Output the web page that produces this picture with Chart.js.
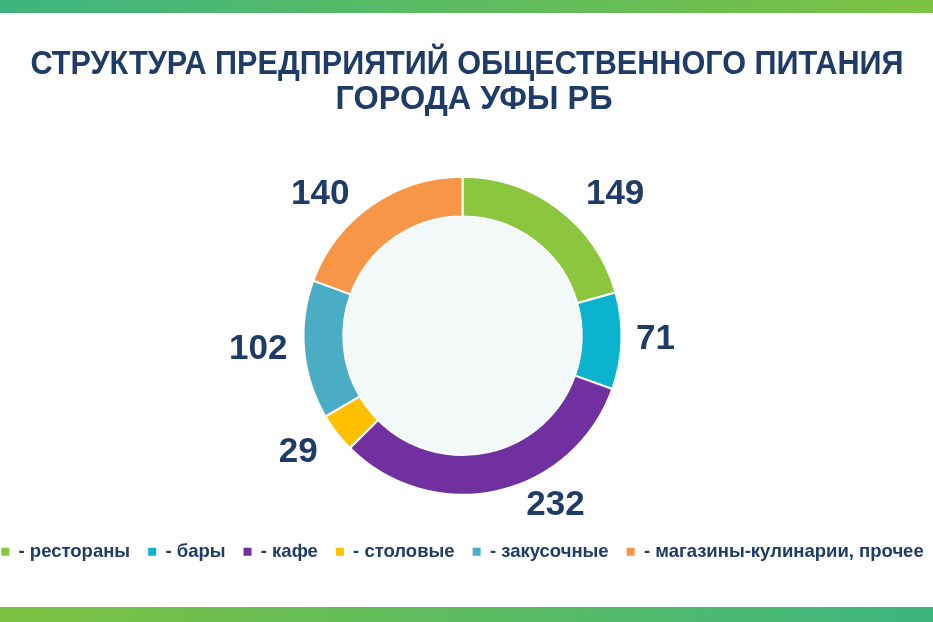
<!DOCTYPE html>
<html>
<head>
<meta charset="utf-8">
<script src="https://cdn.jsdelivr.net/npm/chart.js@4.4.1/dist/chart.umd.min.js"></script>
<style>
  html, body { margin: 0; padding: 0; background: #fff; }
  #wrap { position: relative; width: 933px; height: 622px; overflow: hidden; }
  .bar { position: absolute; left: 0; width: 933px; }
  #topBar { top: 0; height: 13px; background: linear-gradient(to right, #3db57f, #7dc242); }
  #bottomBar { top: 607px; height: 15px; background: linear-gradient(to right, #7dc242, #3db57f); }
  /* canvas nudged left so the ring sits where it does on the slide */
  canvas { position: absolute; left: -4px; top: 0; }
</style>
</head>
<body>
<div id="wrap">
  <div id="topBar" class="bar"></div>
  <div id="bottomBar" class="bar"></div>
  <canvas id="chart" width="933" height="622"></canvas>
</div>
<script>
// data
const categories = ['рестораны', 'бары', 'кафе', 'столовые', 'закусочные', 'магазины-кулинарии, прочее'];
const counts = [149, 71, 232, 29, 102, 140];
const sliceColors = ['#8cc63f', '#0bb3ce', '#7030a0', '#ffc000', '#4bacc6', '#f79646'];
const titleLines = ['СТРУКТУРА ПРЕДПРИЯТИЙ ОБЩЕСТВЕННОГО ПИТАНИЯ', 'ГОРОДА УФЫ РБ'];

const textColor = '#1f3b68';

// title in a narrow bold face: no narrow font installed, so squeeze Liberation Sans
const narrowTitle = {
  id: 'narrowTitle',
  afterDraw(chart, args, opts) {
    const ctx = chart.ctx;
    ctx.save();
    ctx.font = opts.font;
    ctx.fillStyle = opts.color;
    ctx.textAlign = 'center';
    ctx.textBaseline = 'alphabetic';
    opts.lines.forEach((line, i) => {
      const sx = opts.widths[i] / ctx.measureText(line).width;
      ctx.save();
      ctx.translate(opts.centers[i], opts.baselines[i]);
      ctx.scale(sx, 1);
      ctx.fillText(line, 0, 0);
      ctx.restore();
    });
    ctx.restore();
  }
};

// value labels outside the ring, nudged like the original slide
const valueLabels = {
  id: 'valueLabels',
  afterDatasetsDraw(chart, args, opts) {
    const ctx = chart.ctx;
    const meta = chart.getDatasetMeta(0);
    ctx.save();
    ctx.font = opts.font;
    ctx.fillStyle = opts.color;
    ctx.textAlign = 'center';
    ctx.textBaseline = 'middle';
    meta.data.forEach((arc, i) => {
      const p = arc.getProps(['x', 'y', 'startAngle', 'endAngle', 'outerRadius'], true);
      const mid = (p.startAngle + p.endAngle) / 2;
      const r = p.outerRadius + opts.distance;
      const nudge = opts.nudge[i] || [0, 0];
      const x = p.x + Math.cos(mid) * r + nudge[0];
      const y = p.y + Math.sin(mid) * r + nudge[1];
      ctx.fillText(String(chart.data.datasets[0].data[i]), x, y);
    });
    ctx.restore();
  }
};

// faint tint inside the hole (watermark background)
const holeTint = {
  id: 'holeTint',
  beforeDatasetsDraw(chart) {
    const arc = chart.getDatasetMeta(0).data[0];
    if (!arc) return;
    const p = arc.getProps(['x', 'y', 'innerRadius'], true);
    const ctx = chart.ctx;
    ctx.save();
    ctx.fillStyle = '#f3f9f8';
    ctx.beginPath();
    ctx.arc(p.x, p.y, p.innerRadius, 0, Math.PI * 2);
    ctx.fill();
    ctx.restore();
  }
};

new Chart(document.getElementById('chart'), {
  type: 'doughnut',
  data: {
    labels: categories,
    datasets: [{
      data: counts,
      backgroundColor: sliceColors,
      borderColor: '#ffffff',
      borderWidth: 2,
      hoverOffset: 0,
      radius: 159,
      cutout: '75%'
    }]
  },
  options: {
    responsive: false,
    animation: false,
    // negative side padding lets the one-row legend spread as wide as the slide's
    layout: { padding: { left: -13, right: -13, top: 147, bottom: 51 } },
    plugins: {
      tooltip: { enabled: false },
      title: { display: false },
      narrowTitle: {
        lines: titleLines,
        font: 'bold 34px "Liberation Sans", Arial, sans-serif',
        color: textColor,
        widths: [873, 277],
        centers: [471, 478],
        baselines: [74, 109]
      },
      legend: {
        position: 'bottom',
        labels: {
          boxWidth: 8,
          boxHeight: 8,
          padding: 18,
          color: textColor,
          font: { family: '"Liberation Sans", Arial, sans-serif', size: 18.5, weight: 'bold' },
          generateLabels(chart) {
            return chart.data.labels.map((l, i) => ({
              text: '- ' + l,
              fillStyle: sliceColors[i],
              strokeStyle: sliceColors[i],
              lineWidth: 0,
              fontColor: textColor,
              index: i
            }));
          }
        }
      },
      valueLabels: {
        font: 'bold 35px "Liberation Sans", Arial, sans-serif',
        color: textColor,
        distance: 41,
        nudge: [[32, 18], [-7, -3], [49, -26], [-6, -6], [-5, -4], [-28, 23]]
      }
    }
  },
  plugins: [holeTint, valueLabels, narrowTitle]
});
</script>
</body>
</html>
